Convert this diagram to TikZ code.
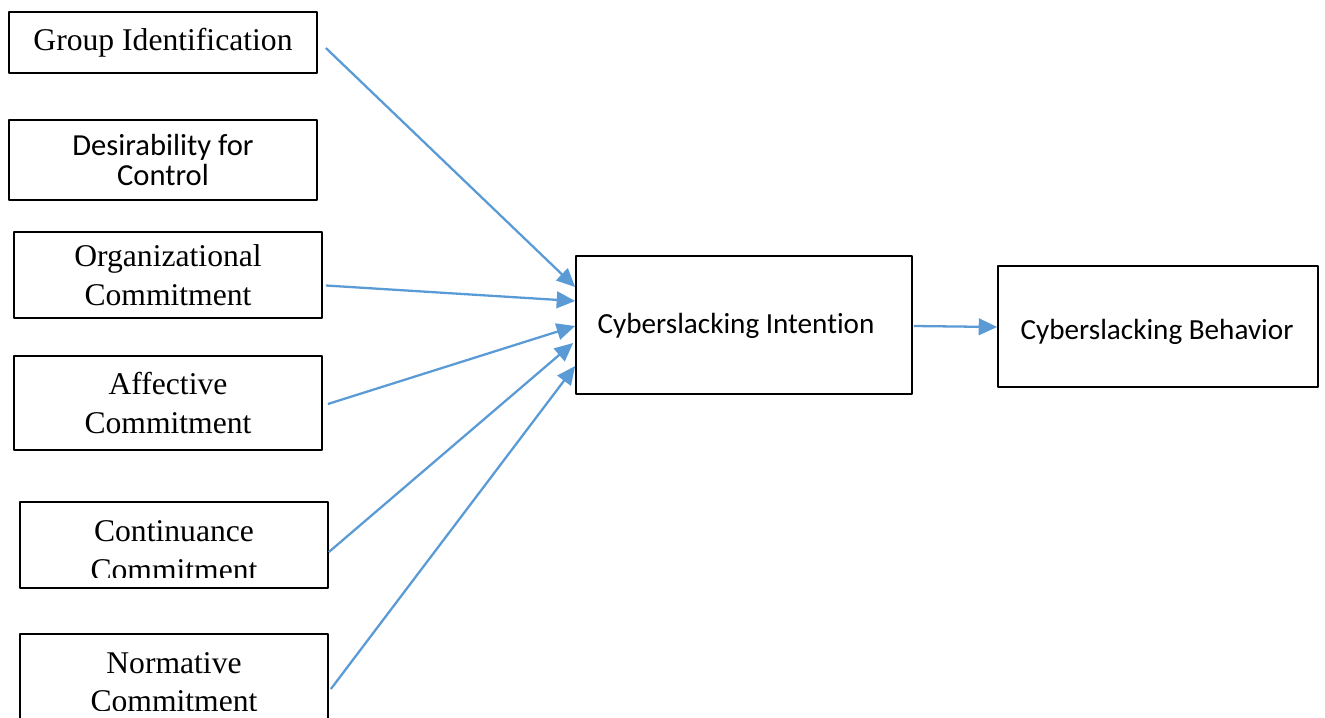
\documentclass[tikz,border=0pt]{standalone}
\usepackage{fontspec}
\setmainfont{Liberation Serif}
\newfontfamily\calfont[Ligatures=NoCommon]{Carlito}
\usetikzlibrary{arrows.meta}
\definecolor{arrowblue}{HTML}{5B9BD5}
\begin{document}
\begin{tikzpicture}[x=0.02cm,y=-0.02cm,line join=round,
		box/.style={draw,line width=1pt,inner sep=0pt,align=center},
		tnr/.style={font=\fontsize{18}{22}\selectfont},
		cal/.style={font=\calfont\fontsize{16.6}{17}\selectfont},
		link/.style={draw=arrowblue,line width=1.3pt,-{Triangle[length=10.5pt,width=9.5pt]}}]
	\clip (0,0) rectangle (1325,717);
	% predictors on the left
	\node[box,tnr,minimum width=6.16cm,minimum height=1.22cm] (gi) at (163,42.5) {Group Identification};
	\node[box,cal,font=\calfont\fontsize{17.4}{16.6}\selectfont,minimum width=6.16cm,minimum height=1.6cm] (dc) at (163,160) {Desirability for\\Control};
	\node[box,tnr,minimum width=6.16cm,minimum height=1.72cm] (oc) at (168,275) {Organizational\\Commitment};
	\node[box,tnr,minimum width=6.16cm,minimum height=1.88cm] (ac) at (168,403) {Affective\\Commitment};
	\node[box,minimum width=6.16cm,minimum height=1.72cm] (cc) at (174,545) {};
	\node[box,minimum width=6.16cm,minimum height=2.12cm] (nc) at (174,687) {};
	% text cut off at the bottom of these two
	\begin{scope}
		\clip (cc.north west) rectangle ([shift={(0,-11)}]cc.south east);
		\node[tnr,align=center] (cctext) at (174,551) {Continuance\\Commitment};
	\end{scope}
	\begin{scope}
		\clip (nc.north west) rectangle ([shift={(0,-30)}]nc.south east);
		\node[tnr,align=center] (nctext) at (174,682) {Normative\\Commitment};
	\end{scope}
	% intention and behavior
	\node[box,minimum width=6.72cm,minimum height=2.76cm] (ci) at (744,325) {};
	\node[cal] (citext) at (736,326) {Cyberslacking Intention};
	\node[box,minimum width=6.4cm,minimum height=2.42cm] (cb) at (1158,326.5) {};
	\node[cal] (cbtext) at (1157,332) {Cyberslacking Behavior};
	% paths
	\draw[link] ([shift={(8,5.5)}]gi.east) -- ([shift={(0,-38)}]ci.west);
	\draw[link] ([shift={(3,10.5)}]oc.east) -- ([shift={(0,-24)}]ci.west);
	\draw[link] ([shift={(5,1)}]ac.east) -- ([shift={(0,1)}]ci.west);
	\draw[link] ([shift={(0,7)}]cc.east) -- ([shift={(-2,18)}]ci.west);
	\draw[link] ([shift={(2,2)}]nc.east) -- ([shift={(0,41)}]ci.west);
	\draw[link] ([shift={(1,1)}]ci.east) -- ([shift={(0,0.5)}]cb.west);
\end{tikzpicture}
\end{document}
